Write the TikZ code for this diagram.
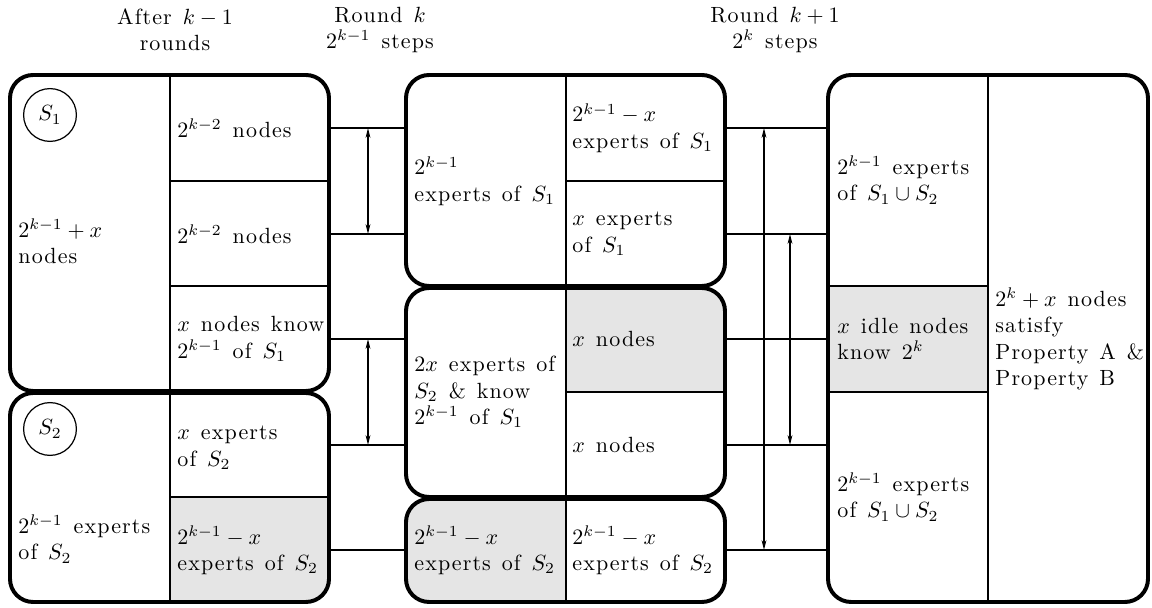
\documentclass[tikz,border=0pt]{standalone}
\usepackage{fontspec}
\setmainfont{lmroman10-regular.otf}[LetterSpace=5,WordSpace=1.3]
\usetikzlibrary{arrows.meta,fit,calc}
\newcommand{\cellfont}{\fontsize{10}{12}\selectfont}
\begin{document}
\begin{tikzpicture}[x=0.4545pt,y=-0.4545pt,
  blk/.style={draw, line width=1.8pt, rounded corners=10.5pt, inner sep=0pt, outer sep=0pt},
  sep/.style={line width=0.55pt},
  cellshade/.style={fill=black!10},
  lbl/.style={anchor=west, align=left, inner sep=0pt, font=\cellfont},
  ttl/.style={align=center, inner sep=0pt, font=\cellfont},
  setname/.style={circle, draw, line width=0.55pt, minimum size=24pt, inner sep=0pt},
  link/.style={line width=0.55pt},
  span/.style={line width=0.55pt, {Stealth[length=4.5pt,width=2.2pt,inset=1.4pt]}-{Stealth[length=4.5pt,width=2.2pt,inset=1.4pt]}}
]
\useasboundingbox (0,0) rectangle (1152,608);

% column headings
\node[ttl] (h1) at (175,30) {After $k-1$\\rounds};
\node[ttl] (h2) at (380,30) {Round $k$\\$2^{k-1}$ steps};
\node[ttl] (h3) at (775,30) {Round $k+1$\\$2^{k}$ steps};

% grey cells, clipped to the rounded outlines
\begin{scope}
  \clip[rounded corners=10.5pt] (10,393) rectangle (329,602);
  \fill[cellshade] (170,497) rectangle (329,602);
\end{scope}
\begin{scope}
  \clip[rounded corners=10.5pt] (406,288) rectangle (725,497);
  \fill[cellshade] (566,392) rectangle (725,288);
\end{scope}
\begin{scope}
  \clip[rounded corners=10.5pt] (406,499) rectangle (725,602);
  \fill[cellshade] (406,499) rectangle (566,602);
\end{scope}
\fill[cellshade] (828,286) rectangle (988,392);

% inner dividers
\draw[sep] (170,75) -- (170,602);
\draw[sep] (170,181) -- (329,181);
\draw[sep] (170,286) -- (329,286);
\draw[sep] (170,497) -- (329,497);
\draw[sep] (566,75) -- (566,602);
\draw[sep] (566,181) -- (725,181);
\draw[sep] (566,392) -- (725,392);
\draw[sep] (988,75) -- (988,602);
\draw[sep] (828,286) -- (988,286);
\draw[sep] (828,392) -- (988,392);

% block outlines
\coordinate (A-nw) at (10,75);   \coordinate (A-se) at (329,391);
\coordinate (B-nw) at (10,393);  \coordinate (B-se) at (329,602);
\coordinate (M-nw) at (406,75);  \coordinate (M-se) at (725,286);
\coordinate (N-nw) at (406,288); \coordinate (N-se) at (725,497);
\coordinate (P-nw) at (406,499); \coordinate (P-se) at (725,602);
\coordinate (R-nw) at (828,75);  \coordinate (R-se) at (1148,602);
\node[blk, fit=(A-nw)(A-se)] (A) {};
\node[blk, fit=(B-nw)(B-se)] (B) {};
\node[blk, fit=(M-nw)(M-se)] (M) {};
\node[blk, fit=(N-nw)(N-se)] (N) {};
\node[blk, fit=(P-nw)(P-se)] (P) {};
\node[blk, fit=(R-nw)(R-se)] (R) {};

% set markers
\node[setname] (s1) at (50,115) {$S_1$};
\node[setname] (s2) at (50,429) {$S_2$};

% after k-1 rounds
\node[lbl] (a0) at (18,241) {$2^{k-1}+x$\\nodes};
\node[lbl] (a1) at (177,128) {$2^{k-2}$ nodes};
\node[lbl] (a2) at (177,234) {$2^{k-2}$ nodes};
\node[lbl] (a3) at (177,339) {$x$ nodes know\\$2^{k-1}$ of $S_1$};
\node[lbl] (b0) at (18,539) {$2^{k-1}$ experts\\of $S_2$};
\node[lbl] (b1) at (177,448) {$x$ experts\\of $S_2$};
\node[lbl] (b2) at (177,550) {$2^{k-1}-x$\\experts of $S_2$};

% round k
\node[lbl] (m0) at (414,181) {$2^{k-1}$\\experts of $S_1$};
\node[lbl] (m1) at (572,128) {$2^{k-1}-x$\\experts of $S_1$};
\node[lbl] (m2) at (572,234) {$x$ experts\\of $S_1$};
\node[lbl] (n0) at (414,392) {$2x$ experts of\\$S_2$ \& know\\$2^{k-1}$ of $S_1$};
\node[lbl] (n1) at (572,339) {$x$ nodes};
\node[lbl] (n2) at (572,445) {$x$ nodes};
\node[lbl] (p0) at (414,550) {$2^{k-1}-x$\\experts of $S_2$};
\node[lbl] (p1) at (572,550) {$2^{k-1}-x$\\experts of $S_2$};

% round k+1
\node[lbl] (r1) at (837,180) {$2^{k-1}$ experts\\of $S_1\cup S_2$};
\node[lbl] (r2) at (837,339) {$x$ idle nodes\\know $2^{k}$};
\node[lbl] (r3) at (837,497) {$2^{k-1}$ experts\\of $S_1\cup S_2$};
\node[lbl] (r0) at (995,339) {$2^{k}+x$ nodes\\satisfy\\Property A \&\\Property B};

% links between rounds
\draw[link] (A.east |- a1) -- (M.west |- a1);
\draw[link] (A.east |- a2) -- (M.west |- a2);
\draw[link] (A.east |- a3) -- (N.west |- a3);
\draw[link] (B.east |- n2) -- (N.west |- n2);
\draw[link] (B.east |- b2) -- (P.west |- b2);
\draw[link] (M.east |- m1) -- (R.west |- m1);
\draw[link] (M.east |- m2) -- (R.west |- m2);
\draw[link] (N.east |- n1) -- (R.west |- n1);
\draw[link] (N.east |- n2) -- (R.west |- n2);
\draw[link] (P.east |- p1) -- (R.west |- p1);

% exchange arrows
\coordinate (g1) at (368,0);
\coordinate (g2) at (764,0);
\coordinate (g3) at (790,0);
\draw[span] (g1 |- a1) -- (g1 |- a2);
\draw[span] (g1 |- a3) -- (g1 |- n2);
\draw[span] (g2 |- m1) -- (g2 |- p1);
\draw[span] (g3 |- m2) -- (g3 |- n2);
\end{tikzpicture}
\end{document}
